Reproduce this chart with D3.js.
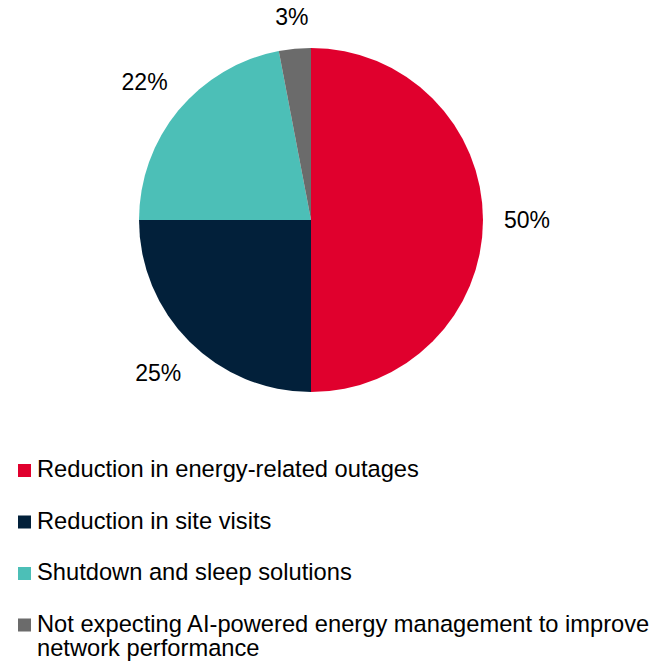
<!DOCTYPE html>
<html>
<head>
<meta charset="utf-8">
<script src="https://cdn.jsdelivr.net/npm/d3@7"></script>
<style>
  html, body { margin: 0; padding: 0; background: #ffffff; }
  svg { display: block; font-family: "Liberation Sans", Arial, sans-serif; }
</style>
</head>
<body>
<svg id="chart" width="666" height="661"></svg>
<script>
const categories = [
  "Reduction in energy-related outages",
  "Reduction in site visits",
  "Shutdown and sleep solutions",
  "Not expecting AI-powered energy management to improve network performance"
];
const values = [50, 25, 22, 3];
const valueLabels = ["50%", "25%", "22%", "3%"];
const legendLines = [
  ["Reduction in energy-related outages"],
  ["Reduction in site visits"],
  ["Shutdown and sleep solutions"],
  ["Not expecting AI-powered energy management to improve", "network performance"]
];
const colors = ["#E0002D", "#02203A", "#4CBFB7", "#6B6B6B"];

const svg = d3.select("#chart");
const cx = 311, cy = 220, r = 172;

const data = categories.map((c, i) => ({ cat: c, value: values[i], label: valueLabels[i], color: colors[i] }));

const pie = d3.pie().value(d => d.value).sort(null).startAngle(0).endAngle(2 * Math.PI);
const arcs = pie(data);
const arc = d3.arc().innerRadius(0).outerRadius(r);
const labelR = 216;
const topMargin = 17; // keep label centers inside the picture

const g = svg.append("g").attr("transform", `translate(${cx},${cy})`);
g.selectAll("path.slice").data(arcs).enter().append("path")
  .attr("class", "slice")
  .attr("d", arc)
  .attr("fill", d => d.data.color);

g.selectAll("text.lbl").data(arcs).enter().append("text")
  .attr("class", "lbl")
  .attr("transform", d => {
    const a = (d.startAngle + d.endAngle) / 2;
    const dx = Math.sin(a), dy = -Math.cos(a);
    let rr = labelR;
    if (cy + dy * rr < topMargin) rr = (topMargin - cy) / dy;
    return `translate(${dx * rr},${dy * rr})`;
  })
  .attr("text-anchor", "middle")
  .attr("dominant-baseline", "central")
  .attr("font-size", 23)
  .attr("fill", "#000")
  .text(d => d.data.label);

// Legend
const legY0 = 477, legStep = 51.5, lineH = 24;
const leg = svg.append("g");
data.forEach((d, i) => {
  const by = legY0 + i * legStep;
  leg.append("rect")
    .attr("x", 18).attr("y", by - 13)
    .attr("width", 13).attr("height", 13)
    .attr("fill", d.color);
  const t = leg.append("text")
    .attr("x", 37).attr("y", by)
    .attr("font-size", 23.7)
    .attr("fill", "#000");
  legendLines[i].forEach((ln, j) => {
    t.append("tspan").attr("x", 37).attr("y", by + j * lineH).text(ln);
  });
});
</script>
</body>
</html>
